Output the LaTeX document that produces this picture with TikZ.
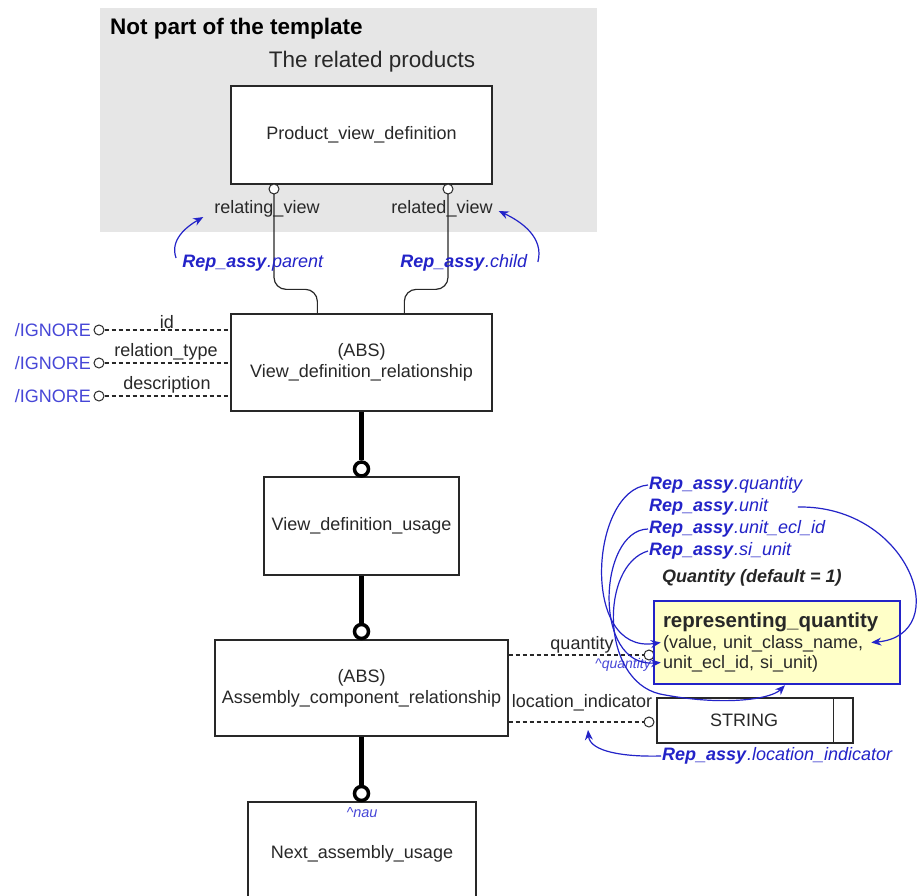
\documentclass[tikz,border=0pt]{standalone}
\usepackage{fontspec}
\setmainfont{Liberation Sans}
\usetikzlibrary{arrows.meta,calc}
\definecolor{bggray}{RGB}{230,230,230}
\definecolor{rblue}{RGB}{35,35,200}
\definecolor{lblue}{RGB}{70,70,215}
\definecolor{ink}{RGB}{40,40,40}
\definecolor{rqfill}{RGB}{255,255,200}
\newcommand{\repa}[1]{\textbf{\textit{Rep\_assy}}\textit{.#1}}
\begin{document}
\begin{tikzpicture}[x=1pt,y=-1pt,
  every node/.style={font=\fontsize{18}{21}\selectfont, text=ink, inner sep=1pt},
  box/.style={draw=ink, line width=1.3pt, fill=white, align=center, inner sep=0pt},
  smallo/.style={circle, draw=ink, fill=white, line width=1pt, minimum size=10pt, inner sep=0pt},
  bigo/.style={circle, draw=black, fill=white, line width=3.5pt, minimum size=14pt, inner sep=0pt},
  boldlink/.style={line width=4.5pt, black},
  attr/.style={dash pattern=on 4pt off 3pt, line width=1.1pt, ink},
  bl/.style={text=rblue},
  hatlbl/.style={text=lblue, font=\itshape\fontsize{14.5}{16}\selectfont},
  barrow/.style={rblue, line width=1.2pt, -{Stealth[length=10pt,width=8pt]}},
  relink/.style={ink, line width=1.2pt, rounded corners=12pt},
]
\useasboundingbox (0,0) rectangle (918,896);
\clip (0,0) rectangle (918,896);
\fill[white] (0,0) rectangle (918,896);
\fill[bggray] (100,8) rectangle (597,232);

\node[anchor=west, text=black, font=\fontsize{22.5}{26}\selectfont\bfseries] (title) at (109,29) {Not part of the template};
\node[font=\fontsize{22.5}{26}\selectfont] (relprod) at (372,62) {The related products};

% top box
\node[box, minimum width=261pt, minimum height=98pt] (pvd) at (361.5,135) {Product\_view\_definition};
\node (rv) at (267,209) {relating\_view};
\node (rdv) at (442,209) {related\_view};

\node[box, minimum width=261pt, minimum height=97pt] (vdr) at (361.5,362.5) {(ABS)\\View\_definition\_relationship};

\draw[relink] (pvd.south -| 274,0) ++(0,9) |- ([xshift=87pt,yshift=24pt]vdr.north west) -- ([xshift=87pt]vdr.north west);
\draw[relink] (pvd.south -| 448,0) ++(0,9) |- ([xshift=174pt,yshift=24pt]vdr.north west) -- ([xshift=174pt]vdr.north west);
\node[smallo] (o1) at (274,189) {};
\node[smallo] (o2) at (448,189) {};

\node[bl] (rpar) at (253,263) {\repa{parent}};
\node[bl] (rchi) at (464,263) {\repa{child}};
\draw[barrow] ([xshift=-5pt,yshift=5pt]rpar.west) to[out=110,in=210] ([xshift=-10pt,yshift=-8pt]rv.west);
\draw[barrow] ([xshift=9pt,yshift=1pt]rchi.east) to[out=75,in=-25] ([xshift=5pt,yshift=-2pt]rdv.east);

% left attributes
\node[smallo] (i1) at (99,330) {};
\node[smallo] (i2) at (99,363) {};
\node[smallo] (i3) at (99,396) {};
\node[anchor=east, text=lblue] (ig1) at (92,330) {/IGNORE};
\node[anchor=east, text=lblue] (ig2) at (92,363) {/IGNORE};
\node[anchor=east, text=lblue] (ig3) at (92,396) {/IGNORE};
\draw[attr] (i1.east) -- (i1.east -| vdr.west);
\draw[attr] (i2.east) -- (i2.east -| vdr.west);
\draw[attr] (i3.east) -- (i3.east -| vdr.west);
\node (aid) at (167,322) {id};
\node (arel) at (166,352) {relation\_type};
\node (adesc) at (167,385) {description};

% vertical chain
\node[box, minimum width=195pt, minimum height=98pt] (vdu) at (361.5,526) {View\_definition\_usage};
\node[box, minimum width=293pt, minimum height=96pt] (acr) at (361.5,688) {(ABS)\\Assembly\_component\_relationship};
\node[box, minimum width=228pt, minimum height=98pt] (nau) at (362,851) {\\[-2pt]Next\_assembly\_usage};
\node[bigo] (j1) at (361.5,469) {};
\node[bigo] (j2) at (361.5,631.5) {};
\node[bigo] (j3) at (361.5,793.5) {};
\draw[boldlink] (vdr.south) -- (j1.north);
\draw[boldlink] (vdu.south) -- (j2.north);
\draw[boldlink] (acr.south) -- (j3.north);
\node[hatlbl] (naul) at (362,813) {\textasciicircum nau};

% right attributes
\node[smallo] (qo) at (649,655) {};
\node[smallo] (lo) at (649,722) {};
\draw[attr] (qo.west -| acr.east) -- (qo.west);
\draw[attr] (lo.west -| acr.east) -- (lo.west);
\node (qlbl) at (582,645) {quantity};
\node[hatlbl, font=\itshape\fontsize{14}{16}\selectfont] (qhat) at (623,665) {\textasciicircum quantity};
\node (llbl) at (582,703) {location\_indicator};

\node[box, minimum width=196pt, minimum height=45pt] (str) at (755,720.5) {};
\draw[ink, line width=1.3pt] ([xshift=-20pt]str.north east) -- ([xshift=-20pt]str.south east);
\node (strt) at (744,720) {STRING};

\node[draw=rblue, line width=2.5pt, fill=rqfill, minimum width=246pt, minimum height=83pt,
      text width=228pt, align=left, inner xsep=9pt, inner ysep=0pt,
      font=\fontsize{18}{20.5}\selectfont] (rq) at (777,642.5)
      {{\fontsize{20.5}{20.5}\selectfont\bfseries representing\_quantity}\\(value, unit\_class\_name,\\unit\_ecl\_id, si\_unit)};

\node[anchor=west, text=black!85, font=\fontsize{18}{21}\selectfont\bfseries\itshape] (qdef) at (661,578) {Quantity (default = 1)};

\node[bl, anchor=west] (rq1) at (648,485) {\repa{quantity}};
\node[bl, anchor=west] (rq2) at (648,507) {\repa{unit}};
\node[bl, anchor=west] (rq3) at (648,529) {\repa{unit\_ecl\_id}};
\node[bl, anchor=west] (rq4) at (648,551) {\repa{si\_unit}};
\node[bl, anchor=west] (rli) at (661,756) {\repa{location\_indicator}};

\draw[barrow] (rq1.west) .. controls (590,490) and (580,655) .. ([xshift=8pt]rq.west);
\draw[barrow] ([xshift=28pt]rq2.east) .. controls (910,505) and (955,635) .. ([xshift=-30pt]rq.east);
\draw[barrow] (rq3.west) .. controls (598,530) and (592,668) .. ([xshift=8pt,yshift=-20pt]rq.west);
\draw[barrow] (rq4.west) .. controls (600,565) and (600,680) .. (660,694) .. controls (720,706) and (770,700) .. ([xshift=8pt]rq.south);
\coordinate (litip) at (588,730);
\draw[barrow] (rli.west) .. controls (625,757) and (590,752) .. (litip);
\end{tikzpicture}
\end{document}
